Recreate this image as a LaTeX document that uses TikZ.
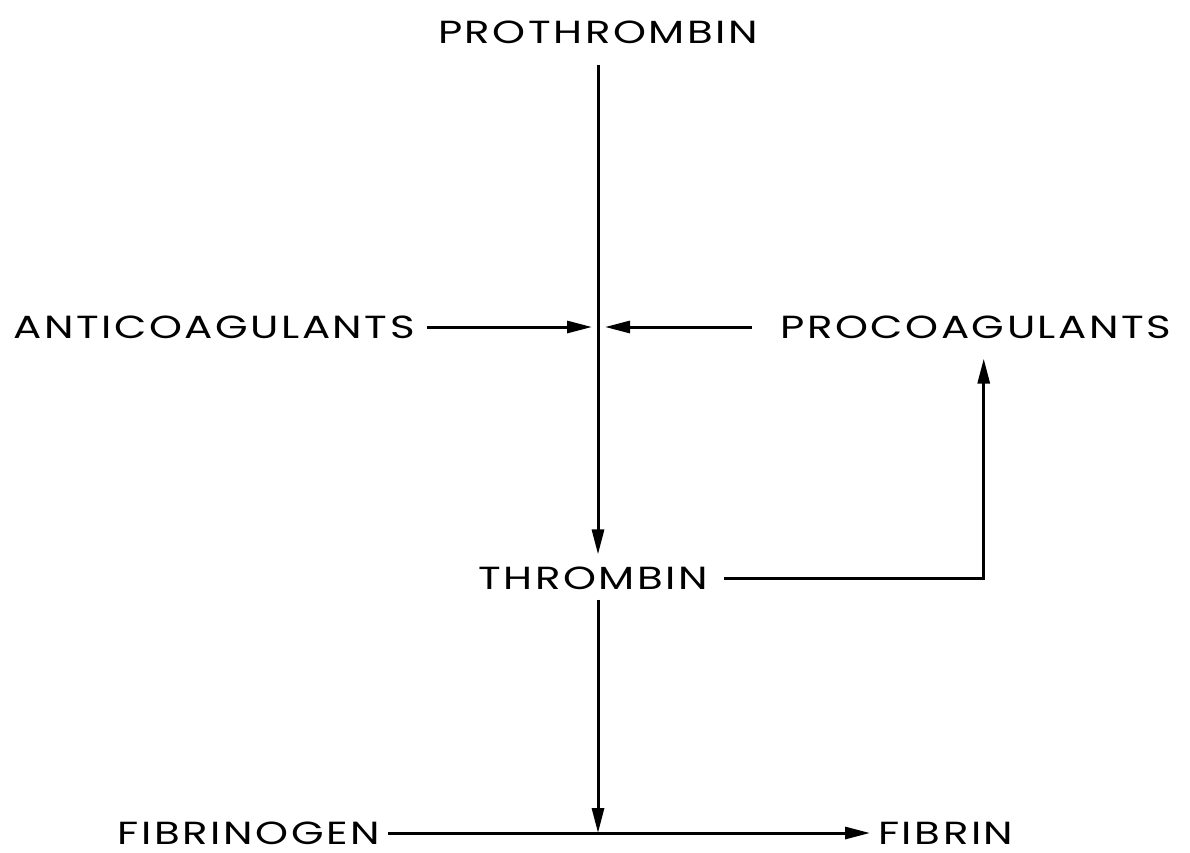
\documentclass[tikz,border=0pt]{standalone}
\usepackage{fontspec}
\usetikzlibrary{positioning,arrows.meta,calc}
\newfontfamily\stencilfont[FakeStretch=1.31, LetterSpace=8]{Poppins}
\tikzset{
  flowarrow/.style={-{Triangle[length=25pt, width=12pt]}, line width=3pt},
  flowline/.style={line width=3pt},
  termnode/.style={inner sep=0pt, font=\stencilfont\fontsize{32}{34}\selectfont}
}
\begin{document}
\begin{tikzpicture}[x=1pt, y=-1pt, >=Latex]
      \useasboundingbox (0,0) rectangle (1190,852);
      \node[termnode] (proth) at (598,32) {PROTHROMBIN};
      \node[termnode, anchor=east] (anti) at (415,327) {ANTICOAGULANTS};
      \node[termnode, anchor=west] (proc) at (780,327) {PROCOAGULANTS};
      \node[termnode] (thromb) at (593,578) {THROMBIN};
      \node[termnode, anchor=east] (fibgen) at (380,833) {FIBRINOGEN};
      \node[termnode, anchor=west] (fib) at (878,833) {FIBRIN};
      \coordinate (junc) at (598,327);
      \coordinate (meet) at (598,833);
      \draw[flowarrow, shorten <=21pt, shorten >=12pt] (junc |- proth.south) -- (junc |- thromb.north);
      \draw[flowarrow, shorten <=12pt, shorten >=6pt] (anti.east) -- (junc);
      \draw[flowarrow, shorten <=28pt, shorten >=7pt] (proc.west) -- (junc);
      \draw[flowarrow, shorten <=16pt, shorten >=20pt] (thromb.east) -| ([xshift=8pt]proc.south);
      \draw[flowarrow, shorten <=10pt] (junc |- thromb.south) -- (meet);
      \draw[flowline, shorten <=8pt] (fibgen.east) -- (meet);
      \draw[flowarrow, shorten >=8pt] (meet) -- (fib.west);
    \end{tikzpicture}
\end{document}
